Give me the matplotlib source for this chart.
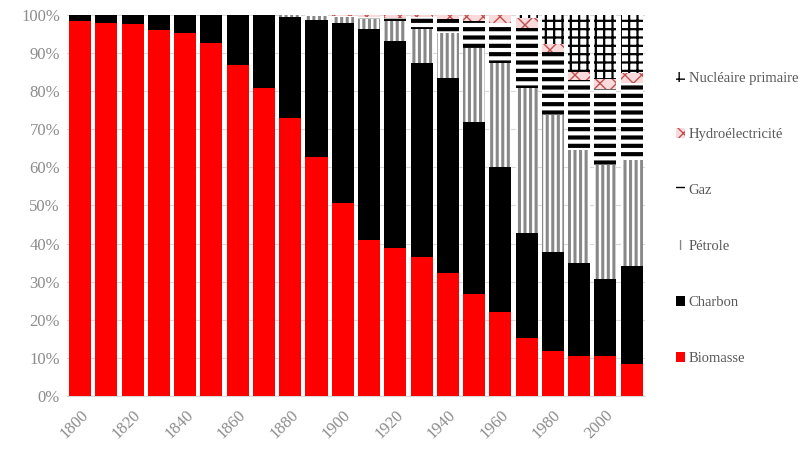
import numpy as np
import matplotlib
matplotlib.use("Agg")
import matplotlib.pyplot as plt

years = list(range(1800, 2011, 10))

biomasse = [98.5, 98.0, 97.7, 96.0, 95.2, 92.7, 86.8, 80.9, 73.0, 62.8, 50.6,
            41.0, 38.8, 36.6, 32.2, 26.9, 22.0, 15.2, 11.8, 10.5, 10.5, 8.3]
charbon = [1.5, 2.0, 2.3, 4.0, 4.8, 7.3, 13.2, 19.0, 26.6, 35.9, 47.2,
           55.3, 54.5, 50.7, 51.3, 44.9, 38.0, 27.6, 25.9, 24.4, 20.2, 25.8]
petrole = [0, 0, 0, 0, 0, 0, 0, 0.1, 0.4, 1.0, 1.6,
           2.6, 5.0, 8.9, 11.7, 19.6, 27.3, 38.0, 36.1, 29.7, 29.9, 27.8]
gaz = [0, 0, 0, 0, 0, 0, 0, 0, 0, 0.2, 0.4,
       0.7, 1.0, 3.2, 3.7, 7.1, 10.7, 15.7, 16.6, 18.3, 19.9, 20.3]
hydro = [0, 0, 0, 0, 0, 0, 0, 0, 0, 0.1, 0.2,
         0.4, 0.7, 0.6, 1.1, 1.5, 2.0, 2.6, 2.1, 2.2, 2.6, 2.5]
nucleaire = [0, 0, 0, 0, 0, 0, 0, 0, 0, 0, 0,
             0, 0, 0, 0, 0, 0, 0.9, 7.5, 14.9, 16.9, 15.3]

series = [
    ("Biomasse", biomasse, dict(color="#ff0000"), 1.0),
    ("Charbon", charbon, dict(color="#000000"), 1.0),
    ("Pétrole", petrole, dict(facecolor="white", edgecolor="#888888", hatch="|||"), 2.2),
    ("Gaz", gaz, dict(facecolor="white", edgecolor="black", hatch="--"), 3.0),
    ("Hydroélectricité", hydro, dict(facecolor="#fadada", edgecolor="#c05050", hatch="xx"), 1.0),
    ("Nucléaire primaire", nucleaire, dict(facecolor="white", edgecolor="black", hatch="++"), 1.6),
]

data = np.array([s[1] for s in series], dtype=float)
data = data / data.sum(axis=0) * 100

plt.rcParams['font.family'] = ['Liberation Serif', 'DejaVu Serif']

fig = plt.figure(figsize=(8.03, 4.5), dpi=100)
ax = fig.add_axes([0.0834, 0.12, 0.7196, 0.8467])

x = np.arange(len(years))
bottom = np.zeros(len(years))
handles = []
for (name, _, style, hlw), vals in zip(series, data):
    with plt.rc_context({'hatch.linewidth': hlw}):
        b = ax.bar(x, vals, width=0.84, bottom=bottom, linewidth=0, label=name,
                   zorder=3, **style)
    handles.append(b)
    bottom += vals

ax.set_xlim(-0.5, len(years) - 0.5)
ax.set_ylim(0, 100)
ax.set_yticks(range(0, 101, 10))
ax.set_yticklabels([f"{v}%" for v in range(0, 101, 10)])
ax.set_xticks(x[::2])
ax.set_xticklabels([str(y) for y in years[::2]], rotation=45, ha="right",
                   rotation_mode="anchor")
ax.tick_params(axis="both", length=0, labelsize=12, colors="#8c8c8c")
ax.tick_params(axis="x", pad=8)
ax.tick_params(axis="y", pad=5)
ax.grid(axis="y", color="#d9d9d9", linewidth=0.8, zorder=0)
for side in ["top", "right", "left"]:
    ax.spines[side].set_visible(False)
ax.spines["bottom"].set_color("#d9d9d9")

leg = fig.legend(handles[::-1], [s[0] for s in series][::-1], loc="center left",
                 bbox_to_anchor=(0.842, 0.514), frameon=False, fontsize=10.5,
                 handlelength=0.6, handleheight=0.6, handletextpad=0.25,
                 labelspacing=2.95, borderpad=0, borderaxespad=0)
for t in leg.get_texts():
    t.set_color("#595959")

fig.savefig("out.png", dpi=100)
